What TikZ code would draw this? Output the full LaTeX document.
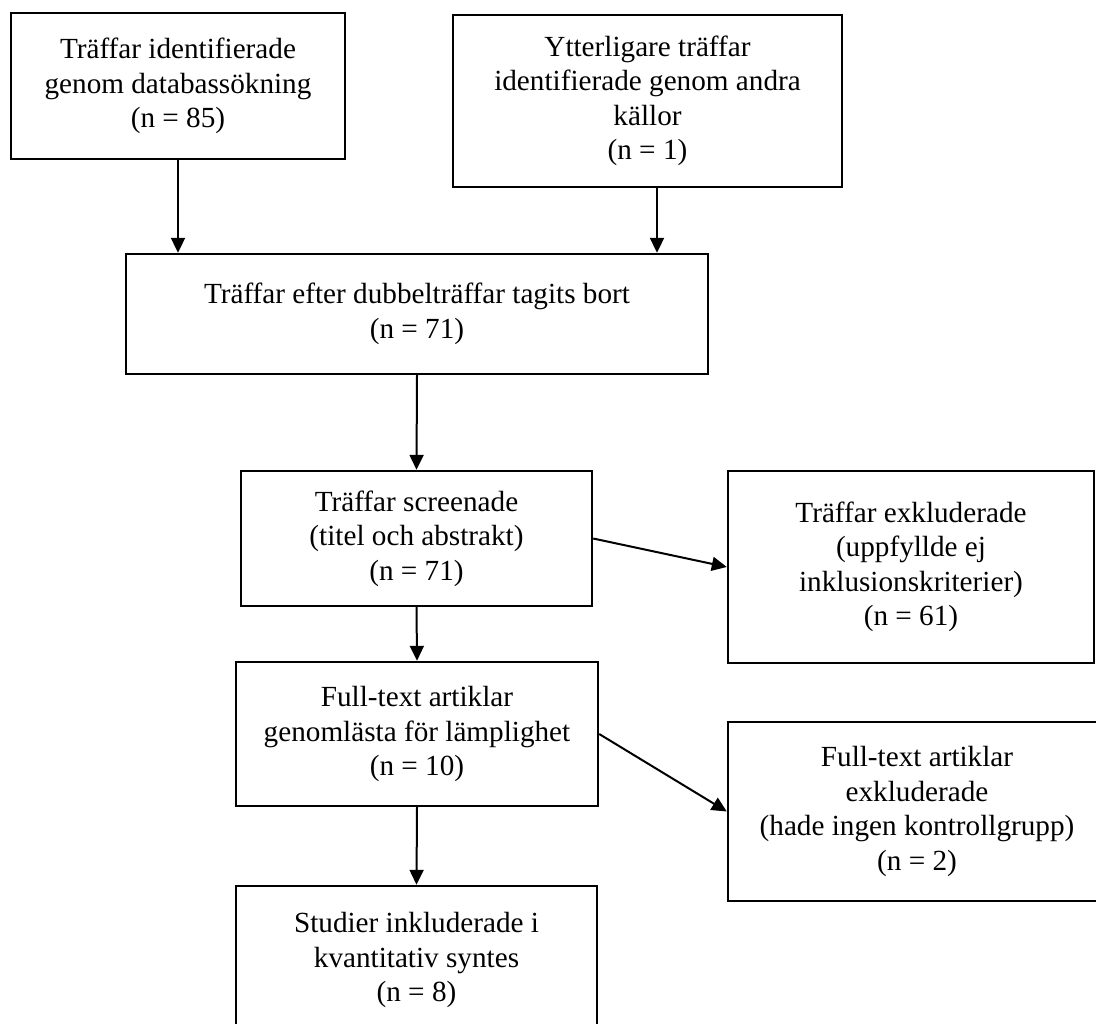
\documentclass[tikz,border=0pt]{standalone}
\usepackage{fontspec}
\setmainfont{Liberation Serif}
\usetikzlibrary{arrows.meta}

\begin{document}
\begin{tikzpicture}[x=0.5pt,y=-0.5pt,
	box/.style={draw,line width=1.2pt,align=center,inner sep=0pt,font=\fontsize{14.6}{17.25}\selectfont},
	pil/.style={-{Triangle[length=7.5pt,width=7pt]},line width=1pt}]
\clip (0,0) rectangle (1096,1023);
\node [box,minimum width=167pt,minimum height=73pt] (db) at (178,86) {Träffar identifierade\\genom databassökning\\(n = 85)};
\node [box,minimum width=194.5pt,minimum height=86pt] (other) at (647.5,101) {Ytterligare träffar\\identifierade genom andra\\källor\\(n = 1)};
\node [box,minimum width=291pt,minimum height=60pt] (dedup) at (417,314) {Träffar efter dubbelträffar tagits bort\\(n = 71)};
\node [box,minimum width=175.5pt,minimum height=67.5pt] (screen) at (416.5,538.5) {Träffar screenade\\(titel och abstrakt)\\(n = 71)};
\node [box,minimum width=183pt,minimum height=96pt] (excl) at (911,567) {Träffar exkluderade\\(uppfyllde ej\\inklusionskriterier)\\(n = 61)};
\node [box,minimum width=181pt,minimum height=72pt] (full) at (417,734) {Full-text artiklar\\genomlästa för lämplighet\\(n = 10)};
\node [box,minimum width=189pt,minimum height=89.5pt] (fullexcl) at (917,811.5) {Full-text artiklar\\exkluderade\\(hade ingen kontrollgrupp)\\(n = 2)};
\node [box,minimum width=180.5pt,minimum height=74pt] (incl) at (416.5,960) {Studier inkluderade i\\kvantitativ syntes\\(n = 8)};

\coordinate (o) at ([xshift=4.75pt]other.south);
\draw [pil] (db.south) -- (db.south |- dedup.north);
\draw [pil] (o) -- (o |- dedup.north);
\draw [pil] (dedup.south) -- (screen.north);
\draw [pil] (screen.south) -- (full.north);
\draw [pil] (full.south) -- (incl.north);
\draw [pil] (screen.east) -- (excl.west);
\draw [pil] (full.east) -- (fullexcl.west);
\end{tikzpicture}
\end{document}
